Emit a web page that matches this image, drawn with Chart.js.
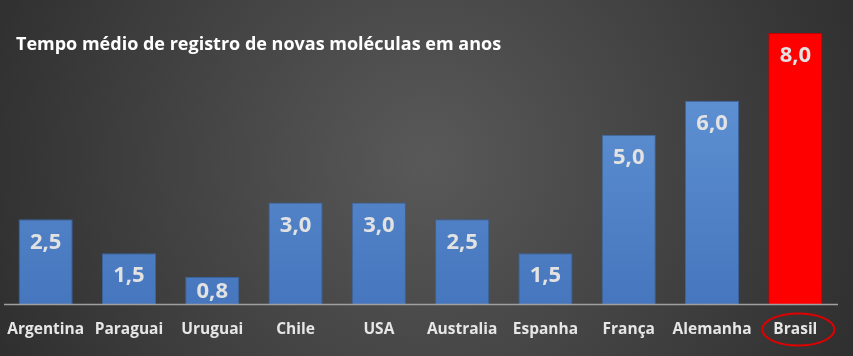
<!DOCTYPE html>
<html><head><meta charset="utf-8">
<script src="https://cdn.jsdelivr.net/npm/chart.js@4/dist/chart.umd.min.js"></script>
<style>html,body{margin:0;padding:0;background:#333;}#wrap{width:853px;height:356px;position:relative;}</style>
</head><body><div id="wrap"><canvas id="c" width="853" height="356"></canvas></div>
<script>
const title = "Tempo médio de registro de novas moléculas em anos";
const categories = ["Argentina","Paraguai","Uruguai","Chile","USA","Australia","Espanha","França","Alemanha","Brasil"];
const values = [2.5, 1.5, 0.8, 3.0, 3.0, 2.5, 1.5, 5.0, 6.0, 8.0];
const highlight = "Brasil";

const FONT = "'Open Sans', 'Liberation Sans', sans-serif";

const bgPlugin = {
  id: 'bg',
  beforeDraw(chart) {
    const ctx = chart.ctx, w = chart.width, h = chart.height;
    ctx.save();
    const g = ctx.createRadialGradient(w*0.5, h*0.45, 10, w*0.5, h*0.45, w*0.6);
    g.addColorStop(0, '#585858');
    g.addColorStop(1, '#2b2b2b');
    ctx.fillStyle = g;
    ctx.fillRect(0, 0, w, h);
    ctx.fillStyle = '#ffffff';
    ctx.font = "bold 18px " + FONT;
    ctx.textBaseline = 'middle';
    ctx.textAlign = 'left';
    ctx.fillText(title, 16, 45);
    ctx.restore();
  },
  afterDraw(chart) {
    const ctx = chart.ctx;
    const meta = chart.getDatasetMeta(0);
    const xs = chart.scales.x;
    const base = chart.chartArea.bottom;
    ctx.save();
    ctx.strokeStyle = '#a0a0a0';
    ctx.lineWidth = 1.5;
    ctx.beginPath();
    ctx.moveTo(4, base + 0.5);
    ctx.lineTo(838, base + 0.5);
    ctx.stroke();
    ctx.font = "bold 22px " + FONT;
    ctx.textAlign = 'center';
    ctx.textBaseline = 'middle';
    meta.data.forEach((bar, i) => {
      const txt = values[i].toFixed(1).replace('.', ',');
      ctx.fillStyle = '#e2e2e2';
      ctx.fillText(txt, bar.x, Math.min(bar.y + 23, base - 12));
    });
    const idx = categories.indexOf(highlight);
    const cx = xs.getPixelForValue(idx);
    ctx.strokeStyle = '#e00000';
    ctx.lineWidth = 2;
    ctx.beginPath();
    ctx.ellipse(cx + 3, 329.5, 36, 16, 0, 0, Math.PI*2);
    ctx.stroke();
    ctx.restore();
  }
};

function barColor(c) {
  const i = c.dataIndex;
  if (categories[i] === highlight) return '#ff0000';
  const chart = c.chart;
  const a = chart.chartArea;
  if (!a) return '#5587cc';
  const el = chart.getDatasetMeta(0).data[i];
  const top = el && isFinite(el.y) ? el.y : a.top;
  const g = chart.ctx.createLinearGradient(0, top, 0, a.bottom);
  g.addColorStop(0, '#6f9fdd');
  g.addColorStop(0.04, '#6396d8');
  g.addColorStop(1, '#4676bd');
  return g;
}

new Chart(document.getElementById('c'), {
  type: 'bar',
  data: {
    labels: categories,
    datasets: [{
      data: values,
      backgroundColor: barColor,
      borderColor: (c) => categories[c.dataIndex] === highlight ? '#c00000' : '#3a64a0',
      borderWidth: 1,
      categoryPercentage: 1,
      barPercentage: 0.65
    }]
  },
  options: {
    responsive: false,
    animation: false,
    layout: { padding: { left: 4, right: 16, top: 33, bottom: 0 } },
    plugins: { legend: { display: false }, tooltip: { enabled: false } },
    scales: {
      x: {
        afterFit(scale) { scale.height = 52; scale.paddingLeft = 0; scale.paddingRight = 0; },
        grid: { display: false, drawTicks: false },
        border: { display: false },
        ticks: { color: '#e6e6e6', font: { family: FONT, size: 15.5, weight: 'bold' }, padding: 16, maxRotation: 0, autoSkip: false }
      },
      y: {
        display: false,
        min: 0, max: 8
      }
    }
  },
  plugins: [bgPlugin]
});
</script></body></html>
